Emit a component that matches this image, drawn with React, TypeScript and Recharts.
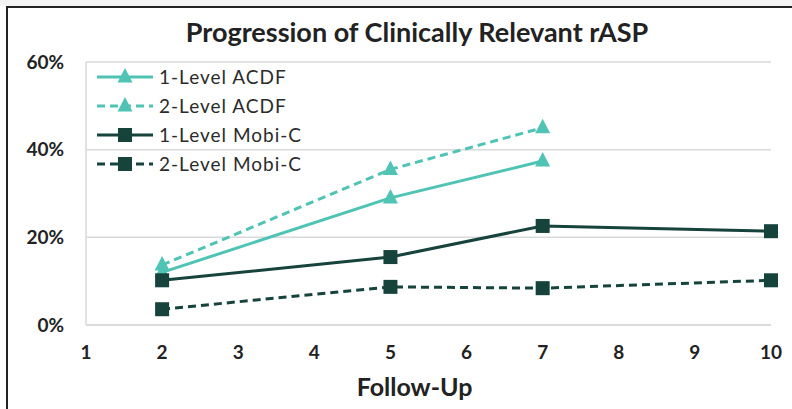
import React from "react";
import {
  LineChart,
  Line,
  XAxis,
  YAxis,
  CartesianGrid,
} from "recharts";

// follow-up years and rASP rates (%)
const years = [2, 5, 7, 10];
const oneLevelAcdf = [12, 29, 37.4, null];
const twoLevelAcdf = [13.7, 35.5, 45, null];
const oneLevelMobiC = [10.2, 15.5, 22.6, 21.4];
const twoLevelMobiC = [3.6, 8.7, 8.4, 10.2];

const xTicks = [1, 2, 3, 4, 5, 6, 7, 8, 9, 10];
const yTicks = [0, 20, 40, 60];

const TEAL = "#4fc3b4";
const DARK = "#17433d";
const FONT = "Lato, 'Open Sans', sans-serif";

const data = years.map((y, i) => ({
  year: y,
  acdf1: oneLevelAcdf[i],
  acdf2: twoLevelAcdf[i],
  mobi1: oneLevelMobiC[i],
  mobi2: twoLevelMobiC[i],
}));

const series = [
  { key: "acdf1", name: "1-Level ACDF", color: TEAL, dash: undefined, marker: "triangle" },
  { key: "acdf2", name: "2-Level ACDF", color: TEAL, dash: "8 5", marker: "triangle" },
  { key: "mobi1", name: "1-Level Mobi-C", color: DARK, dash: undefined, marker: "square" },
  { key: "mobi2", name: "2-Level Mobi-C", color: DARK, dash: "8 5", marker: "square" },
];

const Marker = ({ cx, cy, kind, color }: any) => {
  if (cx == null || cy == null) return null;
  if (kind === "triangle") {
    return (
      <polygon
        points={`${cx},${cy - 9} ${cx - 7.5},${cy + 5.5} ${cx + 7.5},${cy + 5.5}`}
        fill={color}
      />
    );
  }
  return <rect x={cx - 7} y={cy - 7} width={14} height={14} fill={color} />;
};

const LegendBox = () => (
  <div
    style={{
      position: "absolute",
      left: 95,
      top: 62,
      fontFamily: FONT,
      fontSize: 19,
      color: "#2b2b2b",
      letterSpacing: 1,
    }}
  >
    {series.map((s) => (
      <div
        key={s.key}
        style={{ display: "flex", alignItems: "center", height: 29 }}
      >
        <svg width={60} height={20}>
          <line
            x1={2}
            y1={10}
            x2={58}
            y2={10}
            stroke={s.color}
            strokeWidth={3}
            strokeDasharray={s.dash}
          />
          <Marker cx={30} cy={10} kind={s.marker} color={s.color} />
        </svg>
        <span style={{ marginLeft: 4 }}>{s.name}</span>
      </div>
    ))}
  </div>
);

export default function App() {
  return (
    <div
      style={{
        position: "absolute",
        left: 0,
        top: 0,
        width: 792,
        height: 409,
        background: "#fff",
        overflow: "hidden",
      }}
    >
      <div
        style={{
          position: "absolute",
          left: 0,
          top: 0,
          width: 792,
          height: 6,
          background: "#f3f3f3",
        }}
      />
      <div
        style={{
          position: "absolute",
          left: 6,
          top: 6,
          width: 800,
          height: 420,
          borderLeft: "2px solid #222",
          borderTop: "2px solid #222",
        }}
      />
      <div
        style={{
          position: "absolute",
          left: 0,
          top: 15,
          width: 834,
          textAlign: "center",
          fontFamily: FONT,
          fontWeight: 700,
          fontSize: 27,
          color: "#222",
        }}
      >
        Progression of Clinically Relevant rASP
      </div>
      <div style={{ position: "absolute", left: 0, top: 0 }}>
        <LineChart
          width={792}
          height={409}
          data={data}
          margin={{ top: 62, right: 21, bottom: 0, left: 0 }}
        >
          <CartesianGrid
            vertical={false}
            stroke="#d9d9d9"
            strokeWidth={1.5}
          />
          <XAxis
            dataKey="year"
            type="number"
            domain={[1, 10]}
            ticks={xTicks}
            height={84}
            tickLine={false}
            axisLine={{ stroke: "#d9d9d9", strokeWidth: 1.5 }}
            tickMargin={15}
            tick={{ fontFamily: FONT, fontWeight: 700, fontSize: 19, fill: "#222" }}
            label={{
              value: "Follow-Up",
              position: "insideBottom",
              offset: 13,
              dx: -14,
              style: { fontFamily: FONT, fontWeight: 700, fontSize: 25, fill: "#222" },
            }}
          />
          <YAxis
            domain={[0, 60]}
            ticks={yTicks}
            width={86}
            tickLine={false}
            axisLine={{ stroke: "#d9d9d9", strokeWidth: 1.5 }}
            tickMargin={16}
            tickFormatter={(v) => `${v}%`}
            tick={{ fontFamily: FONT, fontWeight: 700, fontSize: 19, fill: "#222" }}
          />
          {series.map((s) => (
            <Line
              key={s.key}
              type="linear"
              dataKey={s.key}
              name={s.name}
              stroke={s.color}
              strokeWidth={3}
              strokeDasharray={s.dash}
              dot={(p: any) => (
                <Marker key={`${s.key}-${p.index}`} cx={p.cx} cy={p.cy} kind={s.marker} color={s.color} />
              )}
              activeDot={false}
              connectNulls={false}
              isAnimationActive={false}
            />
          ))}
        </LineChart>
      </div>
      <LegendBox />
    </div>
  );
}
